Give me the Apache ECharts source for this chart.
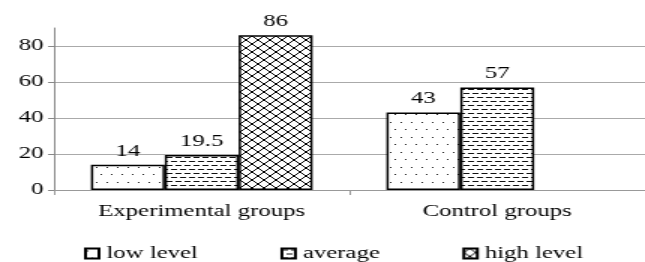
<!DOCTYPE html>
<html>
<head>
<meta charset="utf-8">
<script src="https://cdn.jsdelivr.net/npm/echarts@6/dist/echarts.min.js"></script>
<style>
html,body{margin:0;padding:0;background:#fff;}
#wrap{width:645px;height:262px;overflow:hidden;}
#c{width:430px;height:262px;transform:scaleX(1.5);transform-origin:0 0;}
</style>
</head>
<body>
<div id="wrap"><div id="c"></div></div>
<script>
const categories = ['Experimental groups', 'Control groups'];
const seriesNames = ['low level', 'average', 'high level'];
const lowLevel = [14, 43];
const average = [19.5, 57];
const highLevel = [86, null];
const yMin = 0, yMax = 90, yInterval = 20;

function makeTile(w, h, draw) {
  const cv = document.createElement('canvas');
  cv.width = w; cv.height = h;
  const ctx = cv.getContext('2d');
  ctx.fillStyle = '#fff';
  ctx.fillRect(0, 0, w, h);
  draw(ctx);
  return cv;
}
const dotTile = makeTile(7, 15, ctx => {
  ctx.fillStyle = '#222';
  ctx.fillRect(1, 2, 1, 1);
  ctx.fillRect(4, 9, 1, 1);
});
const dashTile = makeTile(6, 8, ctx => {
  ctx.fillStyle = '#111';
  ctx.fillRect(0, 1, 4, 1);
  ctx.fillRect(3, 5, 4, 1);
  ctx.fillRect(0, 5, 1, 1);
});
const hatchTile = makeTile(8, 8, ctx => {
  ctx.strokeStyle = '#000';
  ctx.lineWidth = 1;
  ctx.beginPath();
  ctx.moveTo(0, 4); ctx.lineTo(4, 0);
  ctx.moveTo(4, 8); ctx.lineTo(8, 4);
  ctx.moveTo(0, 4); ctx.lineTo(4, 8);
  ctx.moveTo(4, 0); ctx.lineTo(8, 4);
  ctx.stroke();
});
const patterns = [dotTile, dashTile, hatchTile];
const dataSets = [lowLevel, average, highLevel];

const font = 'Liberation Serif';
const fs = 16.5;
const chart = echarts.init(document.getElementById('c'), null, {renderer: 'canvas'});
chart.setOption({
  animation: false,
  legend: {
    data: seriesNames,
    icon: 'rect',
    left: 51,
    top: 240,
    itemGap: 55,
    itemWidth: 9,
    itemHeight: 10,
    textStyle: {fontFamily: font, fontSize: fs, color: '#000'}
  },
  grid: {left: 36, width: 400, top: 28, height: 162},
  xAxis: {
    type: 'category',
    data: categories,
    axisLine: {lineStyle: {color: '#999', width: 1}},
    axisTick: {show: true, length: 5, lineStyle: {color: '#999'}},
    axisLabel: {fontFamily: font, fontSize: fs, color: '#000', margin: 13}
  },
  yAxis: {
    type: 'value',
    min: yMin, max: yMax, interval: yInterval,
    axisLine: {show: true, lineStyle: {color: '#888'}},
    axisTick: {show: true, length: 4, lineStyle: {color: '#888'}},
    axisLabel: {fontFamily: font, fontSize: fs, color: '#000', margin: 7, showMaxLabel: false},
    splitLine: {show: true, showMaxLine: false, lineStyle: {color: '#aaa', width: 1}}
  },
  series: seriesNames.map((name, i) => ({
    name: name,
    type: 'bar',
    data: dataSets[i],
    barGap: '0%',
    barCategoryGap: '25%',
    itemStyle: {
      color: {image: patterns[i], repeat: 'repeat'},
      borderColor: '#000',
      borderWidth: 1.5
    },
    label: {
      show: true,
      position: 'top',
      distance: 5,
      fontFamily: font,
      fontSize: fs,
      color: '#000'
    }
  }))
});
</script>
</body>
</html>
